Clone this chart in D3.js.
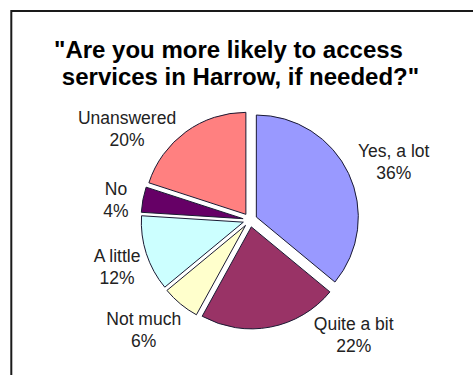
<!DOCTYPE html>
<html>
<head>
<meta charset="utf-8">
<script src="https://cdn.jsdelivr.net/npm/d3@7"></script>
<style>
  html, body { margin: 0; padding: 0; background: #fff; }
  svg { display: block; }
</style>
</head>
<body>
<script>
// Survey responses, percent of respondents, clockwise from 12 o'clock
const categories = ["Yes, a lot", "Quite a bit", "Not much", "A little", "No", "Unanswered"];
const values = [36, 22, 6, 12, 4, 20];
const colors = ["#9999FF", "#993366", "#FFFFCC", "#CCFFFF", "#660066", "#FF8080"];
const titleLines = ["\"Are you more likely to access", "services in Harrow, if needed?\""];

// Where each data label sits: angle (deg, clockwise from top) and distance from the pie centre
const labelPlacement = [
  { angle: 68, dist: 155 },
  { angle: 138, dist: 155 },
  { angle: 224, dist: 153 },
  { angle: 250.5, dist: 141 },
  { angle: 278.5, dist: 135.5 },
  { angle: 306.5, dist: 153 }
];

const W = 473, H = 375;
const cx = 250, cy = 220, radius = 102, explode = 7;

const svg = d3.select("body").append("svg")
  .attr("width", W).attr("height", H)
  .style("font-family", "'Liberation Sans', Arial, sans-serif");

// chart frame (right and bottom edges run off the page)
svg.append("rect")
  .attr("x", 11.3).attr("y", 11).attr("width", 600).attr("height", 600)
  .attr("fill", "none").attr("stroke", "#1a1a1a").attr("stroke-width", 2);

// title
const title = svg.append("g").attr("font-weight", "bold").attr("font-size", 24).attr("fill", "#000");
title.append("text").attr("x", 228.5).attr("y", 58).attr("text-anchor", "middle").text(titleLines[0]);
title.append("text").attr("x", 240.5).attr("y", 85).attr("text-anchor", "middle").text(titleLines[1]);

const data = categories.map((c, i) => ({ category: c, value: values[i], color: colors[i] }));

const pie = d3.pie().value(d => d.value).sort(null);
const arc = d3.arc().innerRadius(0).outerRadius(radius);
const arcs = pie(data);

const g = svg.append("g").attr("transform", `translate(${cx},${cy})`);

// every slice is pulled out a little along its bisector
g.selectAll("path.slice")
  .data(arcs)
  .join("path")
  .attr("class", "slice")
  .attr("d", arc)
  .attr("fill", d => d.data.color)
  .attr("stroke", "#1a1a33")
  .attr("stroke-width", 1)
  .attr("stroke-linejoin", "round")
  .attr("transform", d => {
    const mid = (d.startAngle + d.endAngle) / 2;
    return `translate(${explode * Math.sin(mid)},${-explode * Math.cos(mid)})`;
  });

// category + percentage labels
const labels = g.selectAll("g.label")
  .data(arcs)
  .join("g")
  .attr("class", "label")
  .attr("transform", (d, i) => {
    const p = labelPlacement[i];
    const a = p.angle * Math.PI / 180;
    return `translate(${p.dist * Math.sin(a)},${-p.dist * Math.cos(a)})`;
  })
  .attr("font-size", 17.5)
  .attr("fill", "#222")
  .attr("text-anchor", "middle");

labels.append("text").attr("y", -5).text(d => d.data.category);
labels.append("text").attr("y", 17).text(d => d.data.value + "%");
</script>
</body>
</html>
